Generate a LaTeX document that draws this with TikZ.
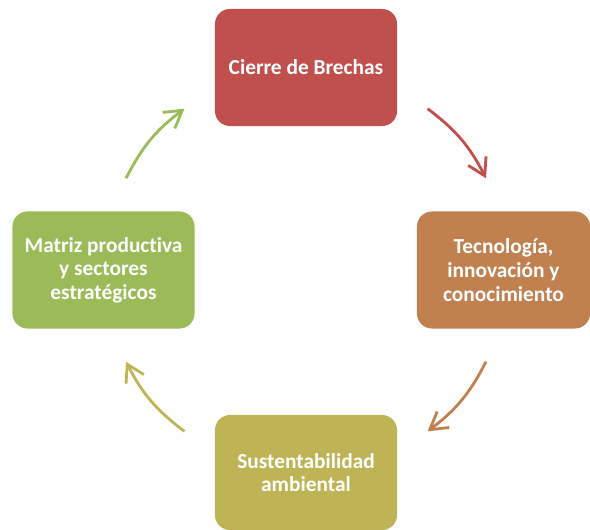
\documentclass[tikz,border=0pt]{standalone}
\usepackage{fontspec}
\setmainfont[Ligatures=NoCommon]{Carlito}
\usetikzlibrary{calc}
\usetikzlibrary{arrows.meta}
\definecolor{brechasRed}{RGB}{192,  80,  77}
\definecolor{tecnoOrange}{RGB}{192, 128,  79}
\definecolor{sustenOlive}{RGB}{190, 179,  85}
\definecolor{matrizGreen}{RGB}{155, 187,  89}

\begin{document}
\begin{tikzpicture}[x=0.025cm, y=0.025cm,
	box/.style={rounded corners=0.375cm, minimum width=4.55cm, minimum height=2.925cm,
		inner sep=0pt, text=white, align=center, font=\fontsize{15.2}{16.8}\selectfont\bfseries},
	loop/.style={line width=2pt, -{Straight Barb[length=0.42cm, width=0.5cm]}}]
	\useasboundingbox (0, 0) rectangle (590, 530);

	% the four boxes
	\node[box, fill=brechasRed] (cierre) at (306, 462.5) {Cierre de Brechas};
	\node[box, fill=tecnoOrange, minimum width=4.325cm] (tecno) at (503.5, 260) {Tecnología,\\innovación y\\conocimiento};
	\node[box, fill=sustenOlive, minimum height=2.875cm] (susten) at (306, 57.5) {Sustentabilidad\\ambiental};
	\node[box, fill=matrizGreen] (matriz) at (103.5, 260) {Matriz productiva\\y sectores\\estratégicos};

	% arrows round the circle
	\coordinate (ctr) at (306, 260);
	\foreach \a/\col [count=\i] in {53/brechasRed, -27/tecnoOrange, 233/sustenOlive, 153/matrizGreen}{
		\coordinate (s\i) at ($(ctr)+(\a:202)$);
		\coordinate (e\i) at ($(ctr)+(\a-26:202)$);
		\draw[loop, \col] (s\i) to[bend left=13] (e\i);
	}
\end{tikzpicture}
\end{document}
